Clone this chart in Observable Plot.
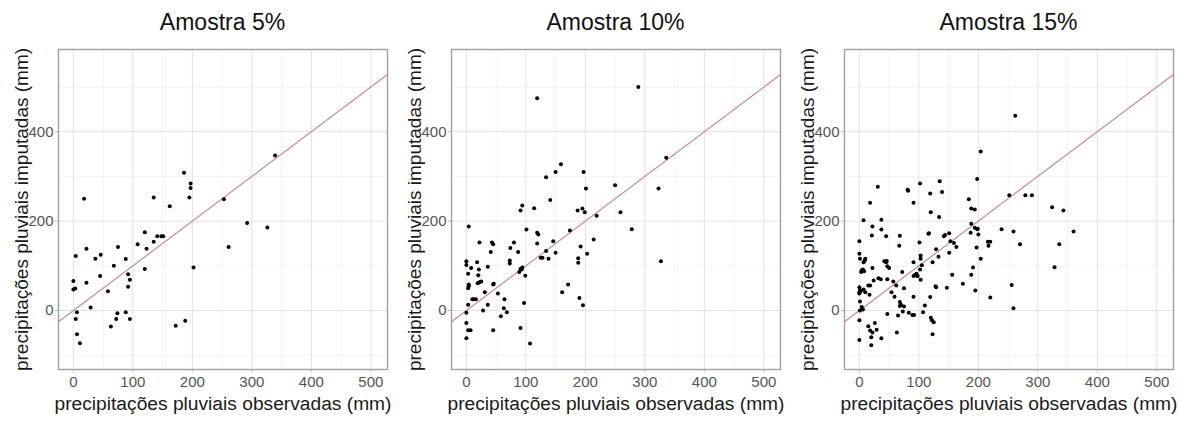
<!DOCTYPE html>
<html>
<head>
<meta charset="utf-8">
<script src="https://cdn.jsdelivr.net/npm/d3@7"></script>
<script src="https://cdn.jsdelivr.net/npm/@observablehq/plot@0.6"></script>
<style>
  body { margin: 0; background: #fff; font-family: "Liberation Sans", Arial, sans-serif; }
  #wrap { display: flex; width: 1179px; height: 422px; overflow: hidden; }
  .panel { width: 393px; flex: none; }
  .title { height: 40px; line-height: 44px; padding-left: 58px; padding-right: 6px; text-align: center; font-size: 23px; color: #111; white-space: nowrap; }
  svg { display: block; }
</style>
</head>
<body>
<div id="wrap"></div>
<script>
const titles = ["Amostra 5%", "Amostra 10%", "Amostra 15%"];
const xLabel = "precipitações pluviais observadas (mm)";
const yLabel = "precipitações pluviais imputadas (mm)";
const xTicks = [0, 100, 200, 300, 400, 500];
const yTicks = [0, 200, 400];
const xMinor = [50, 150, 250, 350, 450];
const yMinor = [-100, 100, 300, 500];
const xDomain = [-25, 528];
const yDomain = [-132, 584];

// Amostra 5%
const obs5 = [186,197,197,195,18,135,162,120,141,148,151,135,108,123,75,22,4,37,46,88,120,68,45,92,95,92,22,58,0,0,3,6,4,29,6,11,63,72,74,88,95,172,188,202,339,253,292,326,261];
const imp5 = [308,284,274,253,250,253,233,175,166,166,166,154,148,138,142,138,122,116,125,115,93,100,77,81,69,53,62,43,66,47,49,-4,-19,7,-53,-73,-36,-19,-6,-4,-19,-34,-23,96,347,249,196,186,142];

// Amostra 10%
const obs10 = [119,159,150,134,141,94,91,114,101,4,119,121,119,80,87,74,43,45,22,41,146,150,134,125,128,138,73,73,0,0,18,8,21,3,20,36,89,91,94,93,99,3,4,4,19,22,25,45,46,10,12,16,3,0,28,36,31,53,64,63,68,58,0,3,7,45,91,97,0,107,171,161,174,187,195,199,197,201,192,188,188,203,190,196,289,336,250,323,259,219,278,214,327];
const imp10 = [475,327,310,298,247,235,224,229,181,188,174,170,150,152,131,140,152,148,152,131,155,129,133,118,118,116,105,112,110,102,108,95,92,82,79,98,86,93,96,92,78,50,58,54,61,63,65,58,60,25,25,25,13,-5,0,13,41,38,25,5,-4,-13,-28,-44,-44,-44,-39,17,-62,-74,58,41,179,224,228,220,310,273,143,117,107,127,28,12,500,342,280,273,220,212,182,159,110];

// Amostra 15%
const obs15 = [204,198,102,135,139,119,81,82,31,18,91,120,134,184,188,194,7,37,22,37,21,45,67,68,0,101,116,117,142,144,151,129,153,159,163,151,187,188,194,199,197,204,191,188,174,195,156,147,128,0,1,9,10,7,4,3,6,8,22,42,46,45,47,50,36,24,32,47,57,15,18,0,1,2,0,0,7,10,17,1,4,6,1,72,75,62,54,59,68,70,68,73,65,47,75,63,89,107,120,122,125,123,91,97,94,96,98,91,91,103,103,105,102,103,110,119,129,123,133,0,0,15,18,22,26,29,37,20,20,92,83,262,252,279,290,324,343,198,200,239,259,360,216,220,217,270,336,328,256,220,259];
const imp15 = [356,294,284,289,265,262,270,268,277,241,241,220,209,249,228,226,202,203,188,181,168,166,145,167,155,152,172,173,166,169,173,137,155,151,142,129,174,194,185,183,141,116,96,80,60,45,80,51,54,127,116,112,116,108,90,86,92,88,95,110,111,108,99,95,70,67,72,70,65,56,56,52,46,43,38,41,47,41,35,20,8,2,0,86,50,56,41,31,19,13,10,-2,-11,-8,9,-49,-10,-4,-16,-22,-26,-53,31,77,80,82,77,108,77,116,123,101,92,69,11,30,52,108,120,-22,-66,-35,-45,-49,-28,-43,-62,-60,-78,-10,-5,436,258,258,258,231,224,182,170,182,177,177,154,154,145,148,148,97,57,29,5];

const series = [[obs5, imp5], [obs10, imp10], [obs15, imp15]];

const wrap = document.getElementById("wrap");
series.forEach(([obs, imp], i) => {
  const data = obs.map((o, j) => ({obs: o, imp: imp[j]}));
  const panel = document.createElement("div");
  panel.className = "panel";
  const t = document.createElement("div");
  t.className = "title";
  t.textContent = titles[i];
  panel.appendChild(t);
  const chart = Plot.plot({
    width: 393,
    height: 382,
    marginLeft: 58,
    marginRight: 6,
    marginTop: 9,
    marginBottom: 53,
    style: {fontFamily: "'Liberation Sans', Arial, sans-serif", background: "white", color: "#1a1a1a", overflow: "visible"},
    x: {domain: xDomain},
    y: {domain: yDomain},
    marks: [
      Plot.gridX(xMinor, {stroke: "#eeeeee", strokeOpacity: 1, strokeWidth: 0.7}),
      Plot.gridY(yMinor, {stroke: "#eeeeee", strokeOpacity: 1, strokeWidth: 0.7}),
      Plot.gridX(xTicks, {stroke: "#e2e2e2", strokeOpacity: 1, strokeWidth: 1}),
      Plot.gridY(yTicks, {stroke: "#e2e2e2", strokeOpacity: 1, strokeWidth: 1}),
      Plot.line(xDomain, {x: d => d, y: d => d, stroke: "#c48e8e", strokeWidth: 1.2}),
      Plot.dot(data, {x: "obs", y: "imp", r: 2, fill: "black", stroke: null}),
      Plot.frame({stroke: "#a0a0a0", strokeWidth: 1.4}),
      Plot.axisX(xTicks, {tickSize: 3, tickPadding: 4, fontSize: 15, fill: "#555", stroke: "#b3b3b3", label: null}),
      Plot.axisY(yTicks, {tickSize: 3, tickPadding: 2, fontSize: 15, fill: "#555", stroke: "#b3b3b3", label: null}),
      Plot.text([xLabel], {text: d => d, frameAnchor: "bottom", dy: 34, fontSize: 19.2, lineAnchor: "middle", textAnchor: "middle", fill: "#1a1a1a"}),
      Plot.text([yLabel], {text: d => d, frameAnchor: "left", dx: -37, rotate: -90, fontSize: 19, lineAnchor: "middle", textAnchor: "middle", fill: "#1a1a1a"})
    ]
  });
  panel.appendChild(chart);
  wrap.appendChild(panel);
});
</script>
</body>
</html>
